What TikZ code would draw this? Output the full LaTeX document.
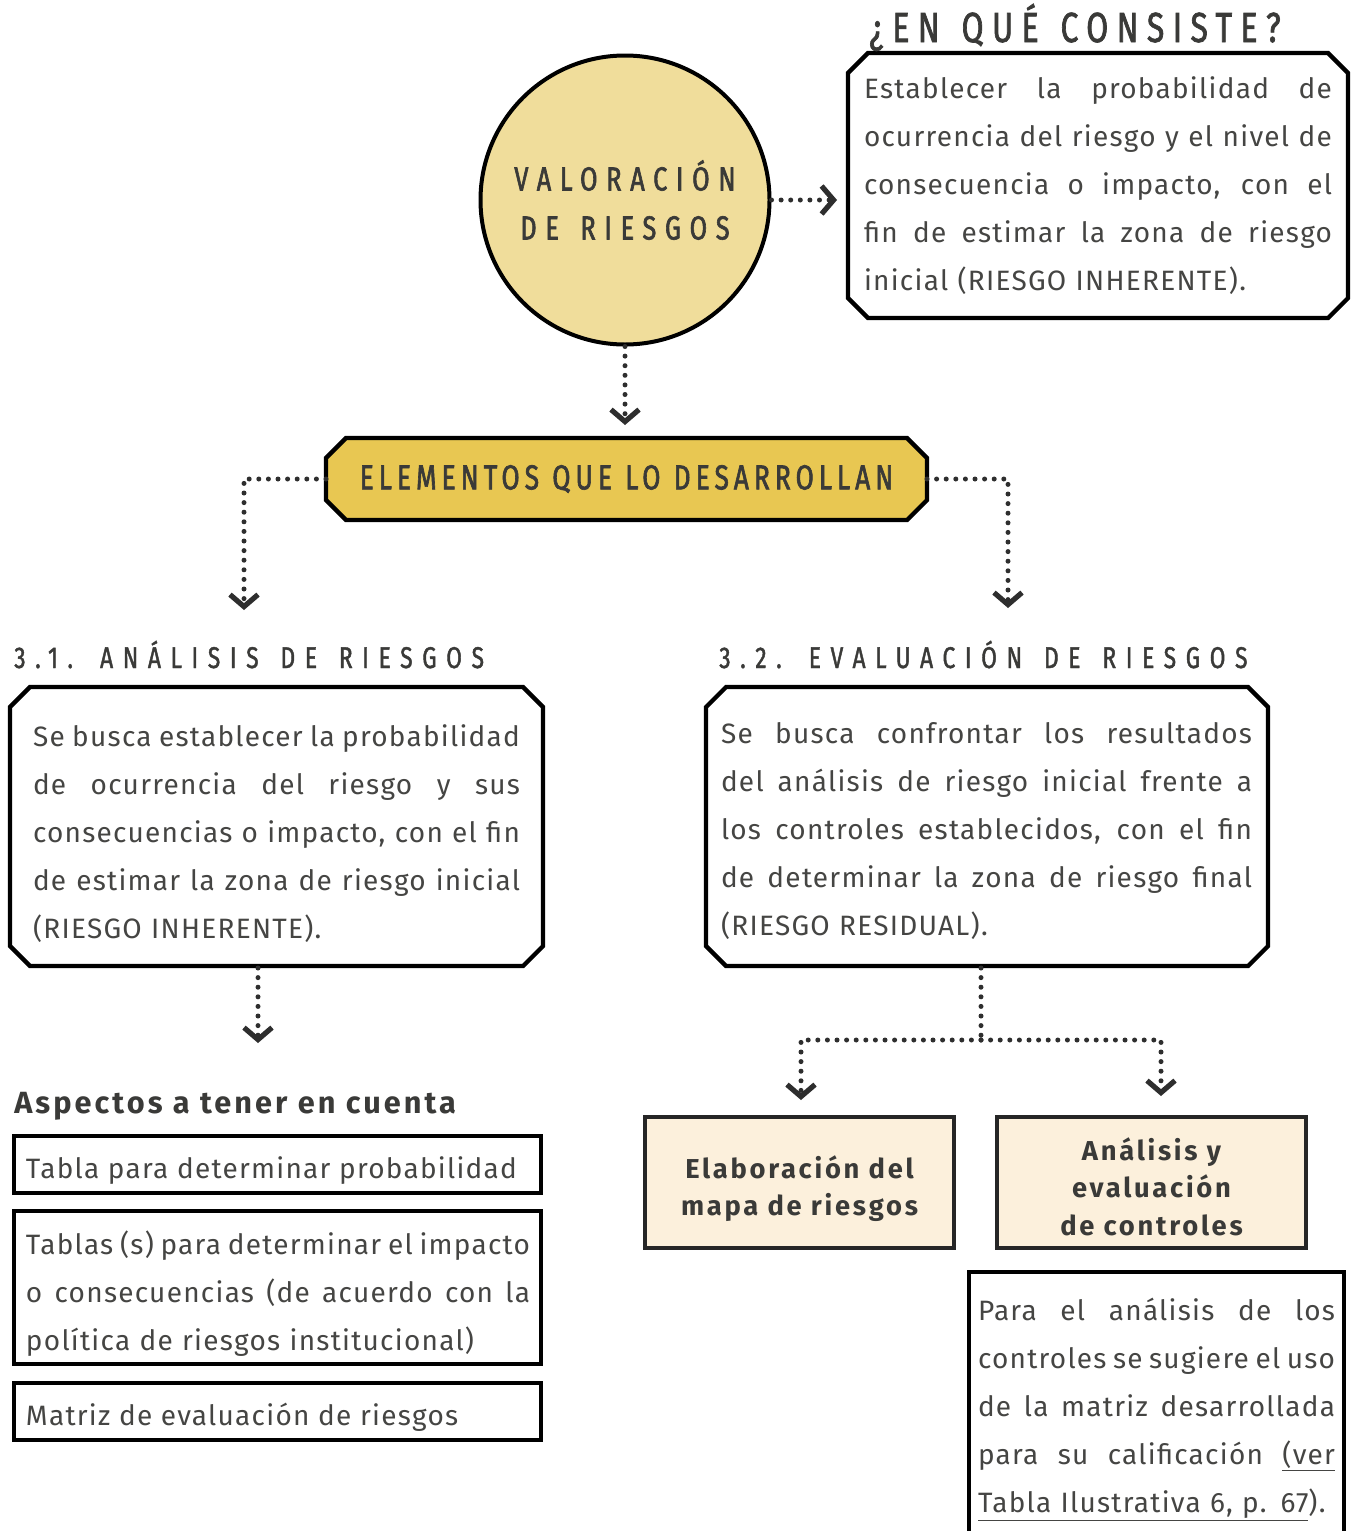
\documentclass[tikz,border=0pt]{standalone}
\usepackage{fontspec}
\setmainfont{Fira Sans}
\newfontfamily\bodyf[LetterSpace=4.5]{Fira Sans}
\newfontfamily\lblf[LetterSpace=10]{Fira Sans}
\newfontfamily\aspf[LetterSpace=10]{Fira Sans}
\newfontfamily\ttlA[LetterSpace=20,WordSpace=1.3,FakeStretch=0.76,FakeBold=1.6]{Fira Sans}
\newfontfamily\ttlB[LetterSpace=26,WordSpace=1.4,FakeStretch=0.76,FakeBold=1.8]{Fira Sans}
\newfontfamily\ttlC[LetterSpace=14.5,WordSpace=1.1,FakeStretch=0.76,FakeBold=1.8]{Fira Sans}
\newfontfamily\ttlD[LetterSpace=32,WordSpace=1.4,FakeStretch=0.76,FakeBold=1.4]{Fira Sans}
\usetikzlibrary{arrows.meta,backgrounds}
\definecolor{txt}{HTML}{454543}
\definecolor{ttl}{HTML}{3A3A38}
\definecolor{circfill}{HTML}{F0DD9B}
\definecolor{gold}{HTML}{E8C752}
\definecolor{cream}{HTML}{FCF0DC}
\definecolor{dotc}{HTML}{2E2E2E}
\newcommand\jl[1]{\leavevmode\hbox to \hsize{\spaceskip=\fontdimen2\font plus 1fil minus 0.5\fontdimen2\font\relax #1}}
\newcommand\chamframe[3][]{%
  \path[#1] ([shift={(0,#3)}]#2.north west) -- ([shift={(#3,0)}]#2.north west)
   -- ([shift={(-#3,0)}]#2.north east) -- ([shift={(0,#3)}]#2.north east)
   -- ([shift={(0,-#3)}]#2.south east) -- ([shift={(-#3,0)}]#2.south east)
   -- ([shift={(#3,0)}]#2.south west) -- ([shift={(0,-#3)}]#2.south west) -- cycle;}
\tikzset{
  bodytext/.style={text=txt, font=\bodyf\fontsize{21}{36}\selectfont, align=left, inner sep=0pt, outer sep=0pt},
  area/.style={inner sep=0pt, outer sep=0pt},
  chframe/.style={draw=black, line width=3.2pt, line join=miter},
  rectbox/.style={draw=black, line width=2.4pt, outer sep=0pt, inner sep=0pt},
  lblbox/.style={draw=black!85, line width=2.4pt, fill=cream, outer sep=0pt, inner sep=0pt,
     minimum width=231.75pt, minimum height=98.25pt},
  lbltext/.style={text=ttl, inner sep=0pt, font=\lblf\bfseries\fontsize{20.5}{28}\selectfont, align=center},
  dotline/.style={draw=dotc, line width=3.75pt, line cap=round, dash pattern=on 0pt off 7.2pt},
  dotarr/.style={dotline, -{Straight Barb[length=9pt,width=21pt,line width=3.9pt]}},
}
\begin{document}
\begin{tikzpicture}[x=0.75pt,y=-0.75pt]
\useasboundingbox (0,0) rectangle (1359,1531);

% circle
\node[circle, minimum size=216.75pt, inner sep=0pt, fill=circfill, draw=black, line width=3pt,
  text=ttl, font=\ttlB\fontsize{25}{36.75}\selectfont, align=center] (vr) at (625,200)
  {VALORACIÓN\\DE RIESGOS};

% title top right
\node[anchor=base, text=ttl, font=\ttlA\fontsize{31.5}{36}\selectfont, inner sep=0pt] (tq) at (1075,42) {¿EN QUÉ CONSISTE?};

% top right box
\node[area, minimum width=375pt, minimum height=198.75pt] (q) at (1098,185.5) {};
\node[bodytext, text width=351pt] (qt) at (q.center) {%
\jl{Establecer la probabilidad de}\\
\jl{ocurrencia del riesgo y el nivel de}\\
\jl{consecuencia o impacto, con el}\\
\jl{fin de estimar la zona de riesgo}\\
inicial (RIESGO INHERENTE).};

% elementos
\node[area, minimum width=450.75pt, minimum height=61.5pt, text=ttl,
  font=\ttlC\fontsize{26}{30}\selectfont] (el) at (626.5,479) {ELEMENTOS QUE LO DESARROLLAN};

% section titles
\node[anchor=base west, text=ttl, font=\ttlD\fontsize{22.5}{30}\selectfont, inner sep=0pt] (t31) at (14,668) {3.1. ANÁLISIS DE RIESGOS};
\node[anchor=base west, text=ttl, font=\ttlD\fontsize{22.5}{30}\selectfont, inner sep=0pt] (t32) at (719,668) {3.2. EVALUACIÓN DE RIESGOS};

% left box
\node[area, minimum width=399.75pt, minimum height=209.25pt] (b31) at (276.5,826.5) {};
\node[bodytext, text width=365.25pt] (b31t) at (276.5,834) {%
\jl{Se busca establecer la probabilidad}\\
\jl{de ocurrencia del riesgo y sus}\\
\jl{consecuencias o impacto, con el fin}\\
\jl{de estimar la zona de riesgo inicial}\\
(RIESGO INHERENTE).};

% right box
\node[area, minimum width=421.5pt, minimum height=209.25pt] (b32) at (987,826.5) {};
\node[bodytext, text width=398.25pt] (b32t) at (986.5,831) {%
\jl{Se busca confrontar los resultados}\\
\jl{del análisis de riesgo inicial frente a}\\
\jl{los controles establecidos, con el fin}\\
\jl{de determinar la zona de riesgo final}\\
(RIESGO RESIDUAL).};

% aspectos
\node[anchor=base west, text=ttl, font=\aspf\bfseries\fontsize{23}{30}\selectfont, inner sep=0pt] (asp) at (14,1113) {Aspectos a tener en cuenta};
\node[rectbox, minimum width=395.25pt, minimum height=42.75pt] (r1) at (277.5,1164.5) {};
\node[bodytext, anchor=base west] (r1t) at (26,1178) {Tabla para determinar probabilidad};
\node[rectbox, minimum width=395.25pt, minimum height=114.75pt] (r2) at (277.5,1287.5) {};
\node[bodytext, text width=378pt] (r2t) at (278,1294) {%
\jl{Tablas (s) para determinar el impacto}\\
\jl{o consecuencias (de acuerdo con la}\\
política de riesgos institucional)};
\node[rectbox, minimum width=395.25pt, minimum height=42.75pt] (r3) at (277.5,1411.5) {};
\node[bodytext, anchor=base west] (r3t) at (26,1425) {Matriz de evaluación de riesgos};

% label boxes
\node[lblbox] (elab) at (799.5,1182.5) {};
\node[lbltext] (elabt) at ([yshift=-4.5pt]elab.center) {Elaboración del\\mapa de riesgos};
\node[lblbox] (anal) at (1151.5,1182.5) {};
\node[lbltext] (analt) at ([yshift=-3pt]anal.center) {Análisis y\\evaluación\\de controles};

% bottom right note
\node[bodytext, text width=267.75pt, anchor=north west, inner xsep=6.75pt, inner ysep=19.5pt] (bx) at (969,1272) {%
\jl{Para el análisis de los}\\
\jl{controles se sugiere el uso}\\
\jl{de la matriz desarrollada}\\
\jl{para su calificación \underline{(ver}}\\
\underline{Tabla Ilustrativa 6, p. 67}).};
\coordinate (bb) at (0,1600);
\draw[black, line width=2.4pt] (bx.north west |- bb) -- (bx.north west) -- (bx.north east) -- (bx.north east |- bb);

% connector coordinates
\coordinate (a1) at (244,610);
\coordinate (a2) at (1008,608);
\coordinate (a3) at (258,1043);
\coordinate (j) at (981,1040);
\coordinate (a4) at (801,1100);
\coordinate (a5) at (1161,1096);

% connectors
\draw[dotarr, shorten >=8.25pt] (vr.east) -- (vr.east -| q.west);
\draw[dotarr, shorten >=9.75pt] (vr.south) -- (vr.south |- el.north);
\draw[dotarr] (el.west) -| (a1);
\draw[dotarr] (el.east) -| (a2);
\draw[dotarr] ([yshift=-1.5pt]b31.south -| a3) -- (a3);
\draw[dotline] ([yshift=-1.5pt]b32.south -| j) -- (j);
\draw[dotarr] (j) -| (a4);
\draw[dotarr] (j) -| (a5);

\begin{scope}[on background layer]
\fill[white] (0,0) rectangle (1359,1531);
\chamframe[chframe, fill=white]{q}{20}
\chamframe[chframe, fill=white]{b31}{20}
\chamframe[chframe, fill=white]{b32}{20}
\chamframe[chframe, fill=gold]{el}{20}
\end{scope}
\end{tikzpicture}
\end{document}
